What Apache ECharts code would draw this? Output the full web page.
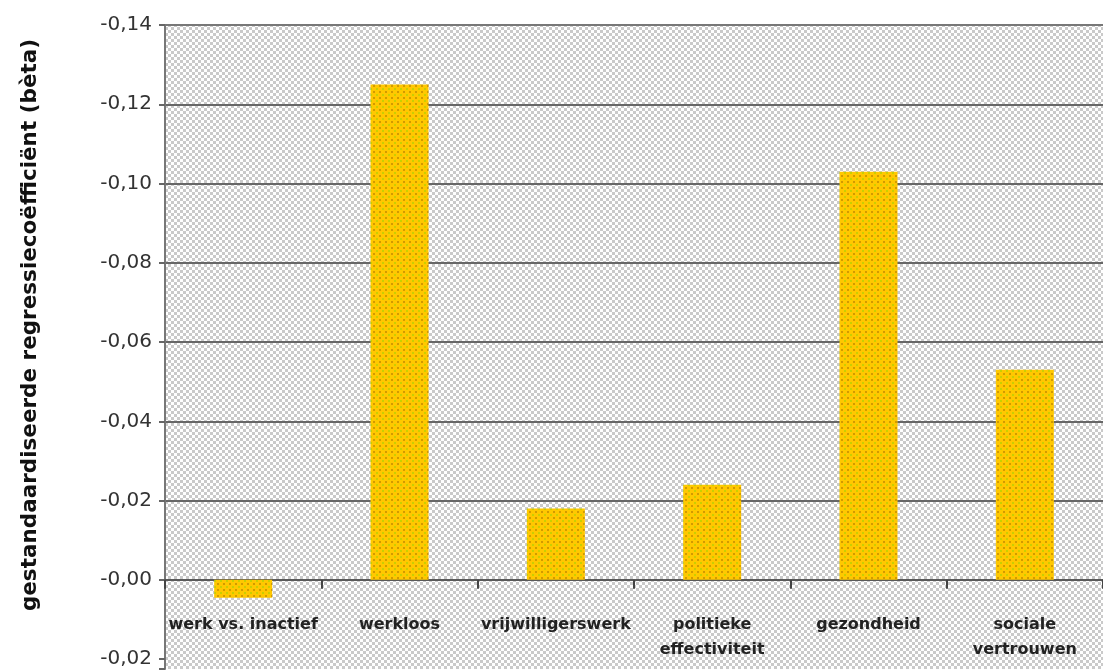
<!DOCTYPE html>
<html>
<head>
<meta charset="utf-8">
<script src="https://cdn.jsdelivr.net/npm/echarts@6/dist/echarts.min.js"></script>
<style>
html,body{margin:0;padding:0;background:#fff;}
#chart{width:1103px;height:670px;}
</style>
</head>
<body>
<div id="chart"></div>
<script>
// ---- data ----
const categories = ['werk vs. inactief', 'werkloos', 'vrijwilligerswerk', 'politieke\neffectiviteit', 'gezondheid', 'sociale\nvertrouwen'];
const values = [0.0045, -0.125, -0.018, -0.024, -0.103, -0.053];
const yAxisTitle = 'gestandaardiseerde regressiecoëfficiënt (bèta)';
const yMin = -0.14, yMax = 0.0225, yStep = 0.02;

// ---- patterns ----
function checker() {
  const c = document.createElement('canvas');
  c.width = 6; c.height = 6;
  const g = c.getContext('2d');
  g.fillStyle = '#ffffff'; g.fillRect(0, 0, 6, 6);
  g.fillStyle = '#cacaca';
  g.fillRect(0, 0, 3, 3); g.fillRect(3, 3, 3, 3);
  return c;
}
function dots() {
  const c = document.createElement('canvas');
  c.width = 6; c.height = 6;
  const g = c.getContext('2d');
  g.fillStyle = '#ffc800'; g.fillRect(0, 0, 6, 6);
  g.fillStyle = '#d29a00'; g.fillRect(1, 1, 2, 2);
  g.fillStyle = '#c9cf00'; g.fillRect(4, 4, 2, 2);
  return c;
}

const chart = echarts.init(document.getElementById('chart'), null, {renderer: 'canvas'});
const fmt = v => '-' + Math.abs(v).toFixed(2).replace('.', ',');
const isStep = v => Math.abs(Math.round(v / yStep) * yStep - v) < 1e-9;

chart.setOption({
  animation: false,
  backgroundColor: '#ffffff',
  grid: {
    left: 165, right: 0, top: 25, bottom: 1,
    containLabel: false,
    outerBoundsMode: 'none',
    show: true, borderWidth: 0,
    backgroundColor: {image: checker(), repeat: 'repeat'}
  },
  graphic: [{
    type: 'text',
    x: 30, y: 325,
    rotation: Math.PI / 2,
    style: {
      text: yAxisTitle,
      font: 'bold 21.5px "DejaVu Sans"',
      fill: '#111',
      align: 'center',
      verticalAlign: 'middle'
    }
  }],
  xAxis: {
    type: 'category',
    data: categories,
    axisLine: {show: true, onZero: true, lineStyle: {color: '#5a5a5a', width: 2}},
    axisTick: {show: true, length: 9, lineStyle: {color: '#444', width: 2}},
    axisLabel: {
      margin: -57,
      color: '#222',
      fontFamily: 'DejaVu Sans',
      fontWeight: 'bold',
      fontSize: 16,
      lineHeight: 25,
      interval: 0,
      hideOverlap: false
    },
    splitLine: {show: false}
  },
  yAxis: {
    type: 'value',
    inverse: true,
    min: yMin, max: yMax, interval: yStep,
    axisLine: {show: true, lineStyle: {color: '#777', width: 2}},
    axisTick: {show: true, length: 6, lineStyle: {color: '#666', width: 2}},
    axisLabel: {
      margin: 13,
      color: '#333',
      fontFamily: 'DejaVu Sans',
      fontSize: 20,
      formatter: v => isStep(v) ? fmt(v) : ''
    },
    splitLine: {
      show: true,
      lineStyle: {
        width: 2,
        color: ['#777', '#666', '#666', '#666', '#666', '#666', '#666', '#666', 'rgba(0,0,0,0)', 'rgba(0,0,0,0)']
      }
    }
  },
  series: [{
    type: 'bar',
    data: values,
    barWidth: 58,
    itemStyle: {color: {image: dots(), repeat: 'repeat'}}
  }]
});
</script>
</body>
</html>
